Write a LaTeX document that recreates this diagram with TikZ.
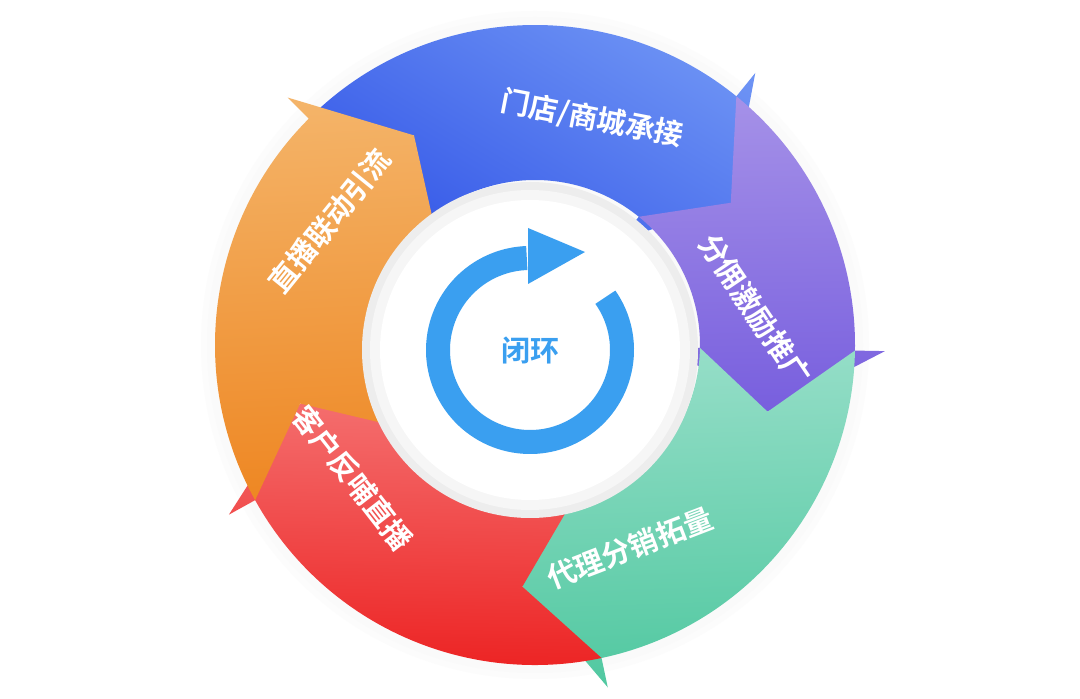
\documentclass[tikz,border=0pt]{standalone}
\usepackage{fontspec}
\newfontfamily\cjk{Noto Sans CJK SC Bold}
\usetikzlibrary{arrows.meta}
\definecolor{bA}{RGB}{112,150,245}\definecolor{bB}{RGB}{55,90,232}
\definecolor{pA}{RGB}{165,145,232}\definecolor{pB}{RGB}{120,95,222}
\definecolor{gA}{RGB}{150,222,200}\definecolor{gB}{RGB}{80,200,160}
\definecolor{rA}{RGB}{244,110,110}\definecolor{rB}{RGB}{236,30,30}
\definecolor{oA}{RGB}{244,180,105}\definecolor{oB}{RGB}{238,135,35}
\definecolor{ic}{RGB}{58,159,240}
\tikzset{lbl/.style={text=white,font=\cjk\fontsize{29}{29}\selectfont}}
\newcommand{\seg}[5]{%
 \path[top color=#3,bottom color=#4,shading angle=#5] (#1+15:320) arc[start angle=#1+15,end angle=#2+15,radius=320] -- (#2+15:350) -- (#2:242) -- (#2+15:135) -- (#2+15:165) arc[start angle=#2+15,end angle=#1+15,radius=165] -- (#1:242) -- cycle;}
\begin{document}
\begin{tikzpicture}[x=1pt,y=1pt]
\useasboundingbox (0,0) rectangle (1080,699);
\fill[white] (0,0) rectangle (1080,699);
\begin{scope}[shift={(535,354)}]
\foreach \r/\c in {334/2,328/4}{\fill[gray!\c] (0,0) circle (\r);}
\seg{120}{36}{bA}{bB}{-31}
\seg{36}{-16}{pA}{pB}{1}
\seg{-16}{-93}{gA}{gB}{2}
\seg{-93}{-166}{rA}{rB}{-1}
\seg{194}{120}{oA}{oB}{3}
\fill[gray!14] (-5,-5) circle (168);
\fill[gray!7] (-5,-5) circle (160);
\fill[white] (-5,-5) circle (150);
\end{scope}
\begin{scope}[shift={(530,349)}]
\draw[line width=24pt,color=ic] (35:92) arc[start angle=35,end angle=-268,radius=92];
\fill[ic] (-2,66) -- (-2,122) -- (55,98) -- cycle;
\node (c) at (0,0) {\cjk\fontsize{29}{29}\selectfont\color{ic}闭环};
\end{scope}
\node[lbl,rotate=-11] (l1) at (592,580) {门店/商城承接};
\node[lbl,rotate=-56] (l2) at (755,389) {分佣激励推广};
\node[lbl,rotate=21] (l3) at (630,151) {代理分销拓量};
\node[lbl,rotate=-52] (l4) at (353,221) {客户反哺直播};
\node[lbl,rotate=51] (l5) at (330,478) {直播联动引流};
\end{tikzpicture}
\end{document}
